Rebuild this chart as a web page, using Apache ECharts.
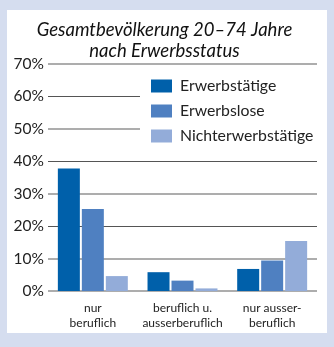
<!DOCTYPE html>
<html><head><meta charset="utf-8">
<script src="https://cdn.jsdelivr.net/npm/echarts@6/dist/echarts.min.js"></script>
<style>html,body{margin:0;padding:0;background:#d5ddef}#c{width:334px;height:347px}</style>
</head><body><div id="c"></div>
<script>
const categories = ["nur\nberuflich", "beruflich u.\nausserberuflich", "nur ausser-\nberuflich"];
const erwerbstaetige = [37.8, 5.8, 6.8];
const erwerbslose = [25.3, 3.2, 9.4];
const nichterwerbstaetige = [4.6, 0.8, 15.4];
const seriesNames = ["Erwerbstätige", "Erwerbslose", "Nichterwerbstätige"];
const yTicks = [0, 10, 20, 30, 40, 50, 60, 70];

const FONT = "Lato, 'Noto Sans', sans-serif";
const chart = echarts.init(document.getElementById('c'));
const gray = '#adadad', dark = '#555555';
const grayColors = yTicks.map(v => (v === 0 || v % 20 !== 0) ? gray : 'rgba(0,0,0,0)');
const darkColors = yTicks.map(v => (v !== 0 && v % 20 === 0) ? dark : 'rgba(0,0,0,0)');
const colors = ['#0060aa', '#4f80c1', '#93acd9'];
chart.setOption({
  backgroundColor: '#d5ddef',
  animation: false,
  graphic: [
    { type: 'rect', z: -10, silent: true, shape: { x: 7, y: 10, width: 320, height: 323 }, style: { fill: '#ffffff' } },
    { type: 'text', z: 10, x: 164.5, y: 19, style: { text: 'Gesamtbevölkerung 20–74 Jahre\nnach Erwerbsstatus', textAlign: 'center', textVerticalAlign: 'top', fontFamily: FONT, fontStyle: 'italic', fontSize: 18.5, lineHeight: 21.5, fill: '#111' } }
  ],
  grid: { left: 48, right: 17, top: 64, bottom: 56 },
  legend: {
    orient: 'vertical', left: 140, top: 72,
    padding: [6, 8, 8, 11],
    backgroundColor: '#ffffff',
    itemWidth: 21, itemHeight: 13, itemGap: 9,
    icon: 'rect',
    textStyle: { fontFamily: FONT, fontSize: 15.8, color: '#222', lineHeight: 14, padding: [0, 0, 0, 3] },
    data: seriesNames
  },
  xAxis: {
    type: 'category', data: categories,
    axisLine: { show: false }, axisTick: { show: false },
    axisLabel: { fontFamily: FONT, fontSize: 12, lineHeight: 15, color: '#222', margin: 10, interval: 0 }
  },
  yAxis: [
    { type: 'value', min: 0, max: 70, interval: 10,
      axisLine: { show: false }, axisTick: { show: false },
      axisLabel: { formatter: '{value}%', fontFamily: FONT, fontSize: 15.5, color: '#222', margin: 4 },
      splitLine: { show: true, lineStyle: { color: grayColors, width: 2 } } },
    { type: 'value', min: 0, max: 70, interval: 10,
      axisLine: { show: false }, axisTick: { show: false }, axisLabel: { show: false },
      splitLine: { show: true, lineStyle: { color: darkColors, width: 1 } } }
  ],
  series: [
    { name: seriesNames[0], type: 'bar', data: erwerbstaetige, barWidth: 22, barGap: '9%', itemStyle: { color: colors[0] } },
    { name: seriesNames[1], type: 'bar', data: erwerbslose, barWidth: 22, barGap: '9%', itemStyle: { color: colors[1] } },
    { name: seriesNames[2], type: 'bar', data: nichterwerbstaetige, barWidth: 22, barGap: '9%', itemStyle: { color: colors[2] } }
  ]
});
</script></body></html>
